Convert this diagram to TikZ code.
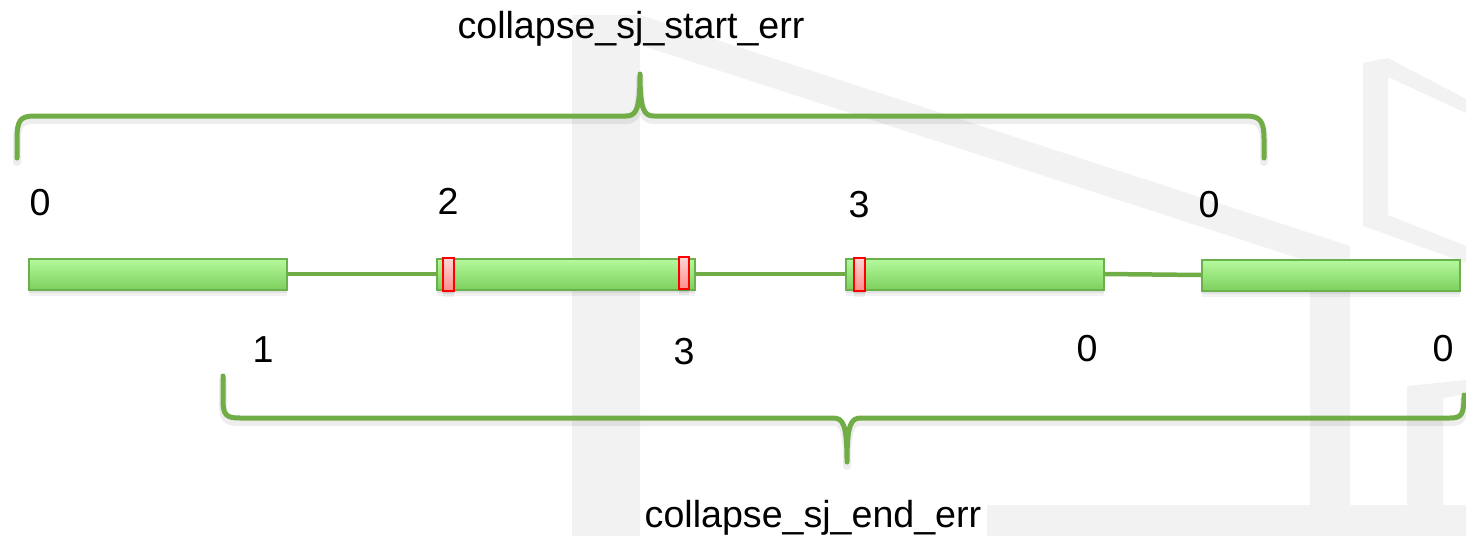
\documentclass[tikz,border=0pt]{standalone}
\usepackage{fontspec}
\setmainfont{Liberation Sans}
\usetikzlibrary{shadows}

\definecolor{linegreen}{RGB}{112,173,71}
\definecolor{edgegreen}{RGB}{106,176,76}
\definecolor{exontop}{RGB}{182,250,158}
\definecolor{exonbot}{RGB}{126,208,94}
\definecolor{marktop}{RGB}{255,214,214}
\definecolor{markbot}{RGB}{255,140,140}
\definecolor{mark}{RGB}{255,0,0}
\definecolor{wm}{RGB}{242,242,242}

\tikzset{
  softshadow/.style={
    preaction={fill=black, opacity=0.05, transform canvas={yshift=-6pt}},
    preaction={fill=black, opacity=0.07, transform canvas={yshift=-3pt}}},
  exon/.style={rectangle, draw=edgegreen, line width=2pt,
    top color=exontop, bottom color=exonbot,
    minimum width=258pt, minimum height=31pt, inner sep=0pt, outer sep=0pt,
    softshadow},
  site/.style={rectangle, draw=mark, line width=1.8pt,
    top color=marktop, bottom color=markbot,
    minimum width=10pt, minimum height=32pt, inner sep=0pt, outer sep=0pt,
    softshadow},
  intron/.style={draw=linegreen, line width=4.5pt},
  bracket/.style={draw=linegreen, line width=5pt, line cap=round, line join=round},
  bracketshade/.style={draw=black, opacity=0.07, line width=8pt, line cap=round, line join=round},
  lbl/.style={anchor=base, inner sep=0pt, font=\fontsize{37.6}{40}\selectfont}
}

\begin{document}
\begin{tikzpicture}[x=1pt, y=-1pt]
\useasboundingbox (0,0) rectangle (1466,536);
\begin{scope}
\clip (0,0) rectangle (1466,536);

% faint logo in the background
\fill[wm] (572,15) -- (640,15) -- (1350,246) -- (1350,536) -- (1310,536)
  -- (1310,262) -- (640,45) -- (640,536) -- (572,536) -- cycle;
\fill[wm] (987,505) rectangle (1466,536);
\fill[wm] (1363,63) -- (1388,58) -- (1466,99) -- (1466,113) -- (1388,77)
  -- (1388,215) -- (1466,246) -- (1466,263) -- (1363,226) -- cycle;
\fill[wm] (1407,386) -- (1466,380) -- (1466,394) -- (1443,398)
  -- (1443,536) -- (1407,536) -- cycle;

% bracket shadows
\draw[bracketshade, yshift=-4pt] (17,158) -- (17,140) .. controls (17,120) and (20,116) .. (35,116)
  -- (626,116) .. controls (636,116) and (640,110) .. (640,74)
  .. controls (640,110) and (644,116) .. (654,116)
  -- (1245,116) .. controls (1260,116) and (1264,120) .. (1264,140) -- (1264,158);
\draw[bracketshade, yshift=-4pt] (223,376) -- (223,400) .. controls (223,415) and (226,418) .. (240,418)
  -- (833,418) .. controls (843,418) and (847,424) .. (847,462)
  .. controls (847,424) and (851,418) .. (861,418)
  -- (1450,418) .. controls (1462,418) and (1464,414) .. (1464,395);

% brackets
\draw[bracket] (17,158) -- (17,140) .. controls (17,120) and (20,116) .. (35,116)
  -- (626,116) .. controls (636,116) and (640,110) .. (640,74)
  .. controls (640,110) and (644,116) .. (654,116)
  -- (1245,116) .. controls (1260,116) and (1264,120) .. (1264,140) -- (1264,158);
\draw[bracket] (223,376) -- (223,400) .. controls (223,415) and (226,418) .. (240,418)
  -- (833,418) .. controls (843,418) and (847,424) .. (847,462)
  .. controls (847,424) and (851,418) .. (861,418)
  -- (1450,418) .. controls (1462,418) and (1464,414) .. (1464,395);
\end{scope}

% exons
\node[exon] (e1) at (158,274) {};
\node[exon] (e2) at (566,274) {};
\node[exon] (e3) at (975,274) {};
\node[exon] (e4) at (1330.5,275) {};

% introns
\draw[intron] (e1.east) -- (e2.west);
\draw[intron] (e2.east) -- (e3.west);
\draw[intron] (e3.east) -- (e4.west);

% splice sites
\node[site, minimum width=11pt, minimum height=33pt] (s1) at (448.5,274.5) {};
\node[site] (s2) at (684,273) {};
\node[site, minimum width=11pt, minimum height=33pt] (s3) at (859.5,274.5) {};

% counts
\node[lbl] (t1) at (40,215) {0};
\node[lbl] (t2) at (448,214) {2};
\node[lbl] (t3) at (859,217) {3};
\node[lbl] (t4) at (1209,217) {0};
\node[lbl] (b1) at (263,362) {1};
\node[lbl] (b2) at (684,364) {3};
\node[lbl] (b3) at (1087,361) {0};
\node[lbl] (b4) at (1443,361) {0};

% bracket titles
\node[lbl] (start) at (631,38) {collapse\_sj\_start\_err};
\node[lbl] (end) at (813,527) {collapse\_sj\_end\_err};
\end{tikzpicture}
\end{document}
